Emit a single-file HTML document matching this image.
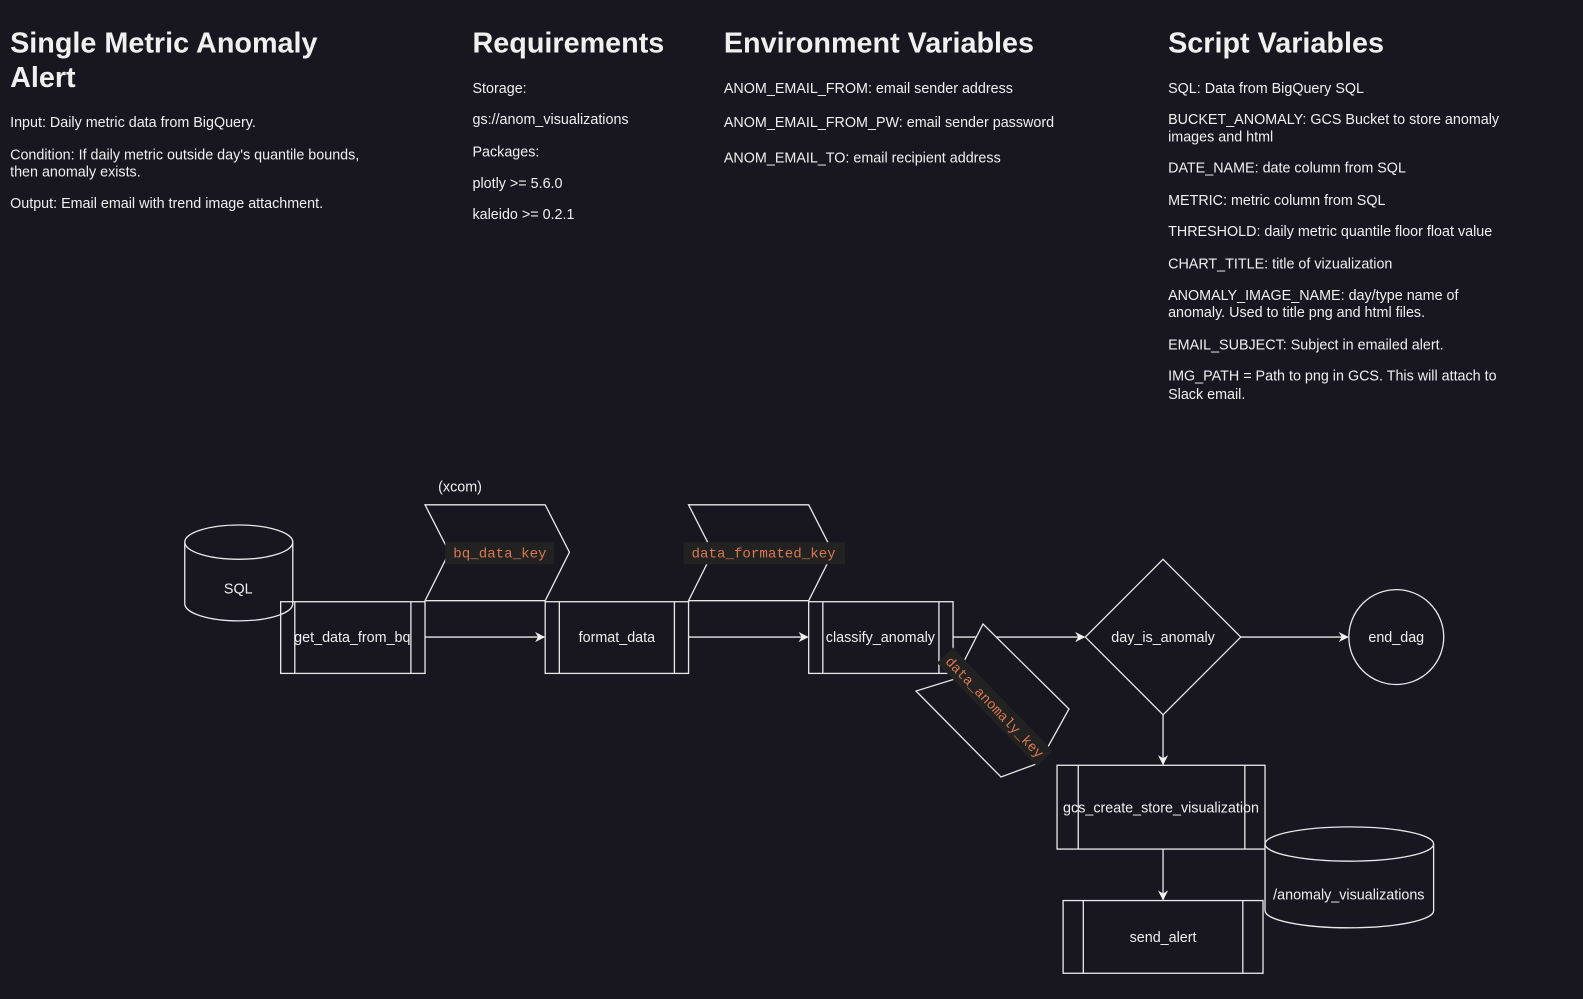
<!DOCTYPE html>
<html><head><meta charset="utf-8"><style>
html,body{margin:0;padding:0;background:#18161f;}
svg{display:block}
text{font-family:"Liberation Sans",sans-serif;fill:#f0f0f0}
.h{font-size:28.5px;font-weight:bold}
.b{font-size:14.2px}
.m{font-family:"Liberation Mono",monospace;font-size:14px;fill:#d9794f}
.s{fill:none;stroke:#e8e8e8;stroke-width:1.3}
</style></head><body>
<svg width="1583" height="999" viewBox="0 0 1583 999">
<defs><marker id="a" markerWidth="10" markerHeight="10" refX="9" refY="5" orient="auto" markerUnits="userSpaceOnUse"><path d="M0,0 L10,5 L0,10 L3,5 Z" fill="#f0f0f0"/></marker></defs>
<g transform="scale(1.0096)">
<text class="h" x="10" y="52">Single Metric Anomaly</text>
<text class="h" x="10" y="86">Alert</text>
<text class="b" x="10" y="126">Input: Daily metric data from BigQuery.</text>
<text class="b" x="10" y="158">Condition: If daily metric outside day's quantile bounds,</text>
<text class="b" x="10" y="175">then anomaly exists.</text>
<text class="b" x="10" y="206">Output: Email email with trend image attachment.</text>

<text class="h" x="468" y="52">Requirements</text>
<text class="b" x="468" y="92">Storage:</text>
<text class="b" x="468" y="123">gs://anom_visualizations</text>
<text class="b" x="468" y="155">Packages:</text>
<text class="b" x="468" y="186">plotly &gt;= 5.6.0</text>
<text class="b" x="468" y="217">kaleido &gt;= 0.2.1</text>

<text class="h" x="717" y="52">Environment Variables</text>
<text class="b" x="717" y="92">ANOM_EMAIL_FROM: email sender address</text>
<text class="b" x="717" y="126">ANOM_EMAIL_FROM_PW: email sender password</text>
<text class="b" x="717" y="161">ANOM_EMAIL_TO: email recipient address</text>

<text class="h" x="1157" y="52">Script Variables</text>
<text class="b" x="1157" y="92">SQL: Data from BigQuery SQL</text>
<text class="b" x="1157" y="123">BUCKET_ANOMALY: GCS Bucket to store anomaly</text>
<text class="b" x="1157" y="140">images and html</text>
<text class="b" x="1157" y="171">DATE_NAME: date column from SQL</text>
<text class="b" x="1157" y="203">METRIC: metric column from SQL</text>
<text class="b" x="1157" y="234">THRESHOLD: daily metric quantile floor float value</text>
<text class="b" x="1157" y="266">CHART_TITLE: title of vizualization</text>
<text class="b" x="1157" y="297">ANOMALY_IMAGE_NAME: day/type name of</text>
<text class="b" x="1157" y="314">anomaly. Used to title png and html files.</text>
<text class="b" x="1157" y="346">EMAIL_SUBJECT: Subject in emailed alert.</text>
<text class="b" x="1157" y="377">IMG_PATH = Path to png in GCS. This will attach to</text>
<text class="b" x="1157" y="395">Slack email.</text>

<text class="b" x="434" y="487">(xcom)</text>

<path class="s" d="M183,537 L183,598 A53.5,17 0 0 0 290,598 L290,537"/>
<ellipse class="s" cx="236.5" cy="537" rx="53.5" ry="17"/>
<text class="b" x="236" y="588" text-anchor="middle">SQL</text>

<path class="s" d="M421,500 L540,500 L564,547 L540,595 L421,595 L445,547 Z"/>
<rect x="441" y="537" width="108" height="22" fill="#222222"/>
<text class="m" x="449" y="552">bq_data_key</text>
<path class="s" d="M682,500 L801,500 L825,547 L801,595 L682,595 L706,547 Z"/>
<rect x="677" y="537" width="160" height="22" fill="#222222"/>
<text class="m" x="685" y="552">data_formated_key</text>

<rect class="s" x="278" y="596" width="143" height="71"/>
<line class="s" x1="292" y1="596" x2="292" y2="667"/><line class="s" x1="407" y1="596" x2="407" y2="667"/>
<text class="b" x="349" y="636" text-anchor="middle">get_data_from_bq</text>
<rect class="s" x="540" y="596" width="142" height="71"/>
<line class="s" x1="554" y1="596" x2="554" y2="667"/><line class="s" x1="668" y1="596" x2="668" y2="667"/>
<text class="b" x="611" y="636" text-anchor="middle">format_data</text>
<rect class="s" x="801" y="596" width="143" height="71"/>
<line class="s" x1="815" y1="596" x2="815" y2="667"/><line class="s" x1="930" y1="596" x2="930" y2="667"/>
<text class="b" x="872" y="636" text-anchor="middle">classify_anomaly</text>

<line class="s" x1="421" y1="631" x2="539" y2="631" marker-end="url(#a)"/>
<line class="s" x1="682" y1="631" x2="800" y2="631" marker-end="url(#a)"/>
<line class="s" x1="944" y1="631" x2="1074" y2="631" marker-end="url(#a)"/>
<line class="s" x1="1229" y1="631" x2="1335" y2="631" marker-end="url(#a)"/>
<line class="s" x1="1152" y1="708" x2="1152" y2="757" marker-end="url(#a)"/>
<line class="s" x1="1152" y1="841" x2="1152" y2="891" marker-end="url(#a)"/>

<path class="s" d="M1152,554 L1229,631 L1152,708 L1075,631 Z"/>
<text class="b" x="1152" y="636" text-anchor="middle">day_is_anomaly</text>
<circle class="s" cx="1383" cy="631" r="47"/>
<text class="b" x="1383" y="636" text-anchor="middle">end_dag</text>

<rect class="s" x="1047" y="758" width="206" height="83"/>
<line class="s" x1="1068" y1="758" x2="1068" y2="841"/><line class="s" x1="1233" y1="758" x2="1233" y2="841"/>
<text class="b" x="1150" y="805" text-anchor="middle">gcs_create_store_visualization</text>

<rect class="s" x="1053" y="892" width="198" height="72"/>
<line class="s" x1="1073" y1="892" x2="1073" y2="964"/><line class="s" x1="1231" y1="892" x2="1231" y2="964"/>
<text class="b" x="1152" y="933" text-anchor="middle">send_alert</text>

<path d="M1253,836 L1253,902 A83.5,17 0 0 0 1420,902 L1420,836" fill="#18161f" stroke="#e8e8e8" stroke-width="1.3"/>
<ellipse class="s" cx="1336.5" cy="836" rx="83.5" ry="17"/>
<text class="b" x="1336" y="891" text-anchor="middle">/anomaly_visualizations</text>
</g>

<path d="M983,624 L1069,709 L1039,763 L1001,777 L916,691 L955,679 Z" fill="#18161f" stroke="#e8e8e8" stroke-width="1.3"/>
<g transform="translate(995,707) rotate(46)">
<rect x="-72" y="-11" width="144" height="22" fill="#222222"/>
<text class="m" x="0" y="5" text-anchor="middle">data_anomaly_key</text>
</g>
</svg>
</body></html>
